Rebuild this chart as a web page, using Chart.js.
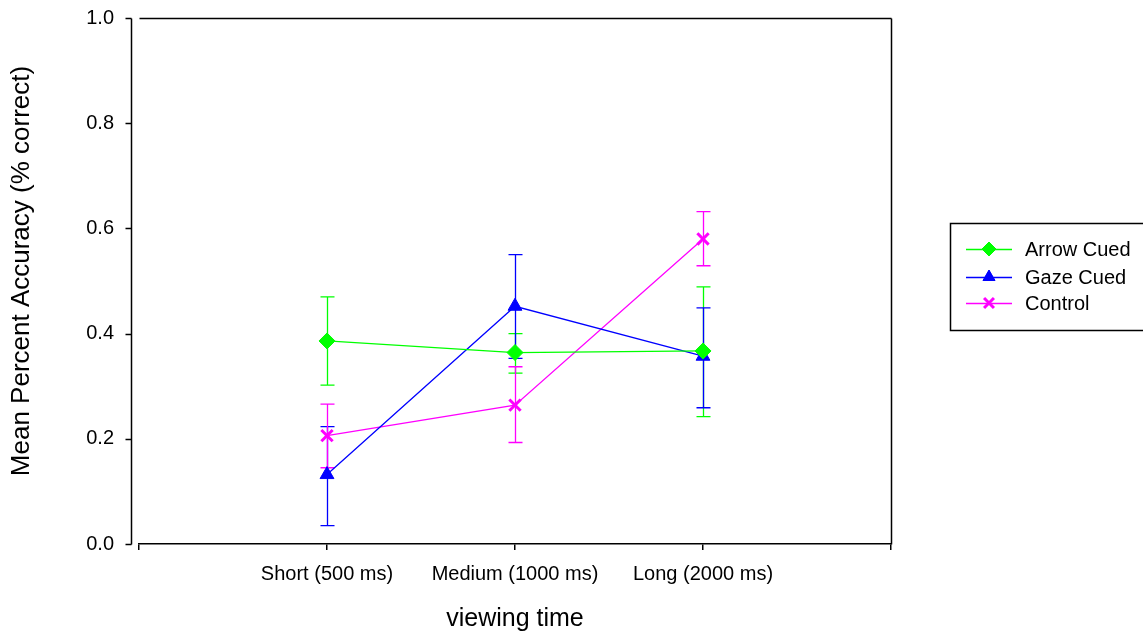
<!DOCTYPE html>
<html>
<head>
<meta charset="utf-8">
<script src="https://cdn.jsdelivr.net/npm/chart.js@4/dist/chart.umd.min.js"></script>
<style>
  html, body { margin: 0; padding: 0; background: #fff; }
  #wrap { width: 1143px; height: 632px; }
</style>
</head>
<body>
<div id="wrap"><canvas id="chart" width="1143" height="632"></canvas></div>
<script>
const categories = ['Short (500 ms)', 'Medium (1000 ms)', 'Long (2000 ms)'];
const yTicks = [0, 0.2, 0.4, 0.6, 0.8, 1.0];

const arrowMean  = [0.386, 0.364, 0.367];
const arrowUpper = [0.470, 0.400, 0.489];
const arrowLower = [0.302, 0.325, 0.242];

const gazeMean  = [0.132, 0.452, 0.357];
const gazeUpper = [0.223, 0.550, 0.449];
const gazeLower = [0.035, 0.353, 0.259];

const controlMean  = [0.206, 0.264, 0.580];
const controlUpper = [0.266, 0.337, 0.632];
const controlLower = [0.145, 0.193, 0.529];

const FONT = '"Liberation Sans", Arial, sans-serif';
Chart.defaults.font.family = FONT;
Chart.defaults.color = '#000';

// empty slots at both ends so the categories sit at 1/4, 2/4, 3/4 of the axis
const pad = (arr) => [null, ...arr, null];

const series = [
  { label: 'Arrow Cued', color: '#00ff00', mean: arrowMean, upper: arrowUpper, lower: arrowLower, style: 'rectRot', radius: 8, bw: 1 },
  { label: 'Gaze Cued', color: '#0000ff', mean: gazeMean, upper: gazeUpper, lower: gazeLower, style: 'triangle', radius: 8, bw: 1 },
  { label: 'Control', color: '#ff00ff', mean: controlMean, upper: controlUpper, lower: controlLower, style: 'crossRot', radius: 8, bw: 3 },
];

// error bars, drawn beneath lines and symbols
const errorBars = {
  id: 'errorBars',
  beforeDatasetsDraw(chart) {
    const ctx = chart.ctx;
    const yScale = chart.scales.y;
    ctx.save();
    ctx.lineWidth = 1.3;
    series.forEach((s, di) => {
      const meta = chart.getDatasetMeta(di);
      ctx.strokeStyle = s.color;
      s.mean.forEach((m, i) => {
        const pt = meta.data[i + 1];
        const x = Math.round(pt.x) + 0.5;
        const yu = yScale.getPixelForValue(s.upper[i]);
        const yl = yScale.getPixelForValue(s.lower[i]);
        ctx.beginPath();
        ctx.moveTo(x, yu); ctx.lineTo(x, yl);
        ctx.moveTo(x - 7, yu); ctx.lineTo(x + 7, yu);
        ctx.moveTo(x - 7, yl); ctx.lineTo(x + 7, yl);
        ctx.stroke();
      });
    });
    ctx.restore();
  }
};

// frame, detached y axis, y title and boxed legend
const frame = {
  id: 'frame',
  afterDraw(chart) {
    const ctx = chart.ctx;
    const a = chart.chartArea;
    const yScale = chart.scales.y;
    ctx.save();
    ctx.strokeStyle = '#000';
    ctx.lineWidth = 1.5;
    const L = Math.round(a.left) + 0.5, R = Math.round(a.right) + 0.5;
    const T = Math.round(a.top) + 0.5, B = Math.round(a.bottom) + 0.5;
    ctx.beginPath();
    ctx.moveTo(L, T); ctx.lineTo(R, T);
    ctx.moveTo(R, T); ctx.lineTo(R, B);
    const ax = L - 8;
    ctx.moveTo(ax, T); ctx.lineTo(ax, B);
    yTicks.forEach(v => {
      const y = Math.round(yScale.getPixelForValue(v)) + 0.5;
      ctx.moveTo(ax - 6, y); ctx.lineTo(ax, y);
    });
    ctx.stroke();

    // y title
    ctx.fillStyle = '#000';
    ctx.font = '26px ' + FONT;
    ctx.textAlign = 'center';
    ctx.textBaseline = 'middle';
    ctx.translate(22, 271);
    ctx.rotate(-Math.PI / 2);
    ctx.fillText('Mean Percent Accuracy (% correct)', 0, 0);
    ctx.setTransform(1, 0, 0, 1, 0, 0);

    // legend
    ctx.lineWidth = 1.5;
    ctx.strokeRect(950.5, 223.5, 220, 107);
    const rows = [249, 277, 303];
    ctx.font = '20px ' + FONT;
    ctx.textAlign = 'left';
    series.forEach((s, i) => {
      const y = rows[i];
      ctx.strokeStyle = s.color;
      ctx.fillStyle = s.color;
      ctx.lineWidth = 1.3;
      ctx.beginPath();
      ctx.moveTo(966, y + 0.5); ctx.lineTo(1012, y + 0.5);
      ctx.stroke();
      ctx.lineWidth = s.bw;
      if (Chart.helpers && Chart.helpers.drawPoint) {
        Chart.helpers.drawPoint(ctx, { pointStyle: s.style, radius: 7, borderWidth: s.bw, rotation: 0 }, 989, y);
        if (s.style !== 'crossRot') ctx.fill();
      }
      ctx.fillStyle = '#000';
      ctx.fillText(s.label, 1025, y + 1);
    });
    ctx.restore();
  }
};

new Chart(document.getElementById('chart').getContext('2d'), {
  type: 'line',
  data: {
    labels: ['', ...categories, ''],
    datasets: series.map(s => ({
      label: s.label,
      data: pad(s.mean),
      borderColor: s.color,
      backgroundColor: s.color,
      borderWidth: 1.3,
      tension: 0,
      pointStyle: s.style,
      pointRadius: s.radius,
      pointBorderWidth: s.bw,
      pointBackgroundColor: s.color,
      pointBorderColor: s.color,
    })),
  },
  options: {
    responsive: false,
    animation: false,
    layout: { padding: { top: 18, right: 252, left: 0, bottom: 0 } },
    plugins: { legend: { display: false }, tooltip: { enabled: false } },
    scales: {
      x: {
        type: 'category',
        offset: false,
        afterFit(scale) { scale.height = 88; scale.paddingLeft = 0; scale.paddingRight = 0; },
        grid: { display: true, drawOnChartArea: false, drawTicks: true, tickLength: 6, color: '#000', lineWidth: 1.5 },
        border: { display: true, color: '#000', width: 1.5 },
        ticks: { autoSkip: false, maxRotation: 0, padding: 12, font: { size: 20 }, color: '#000' },
        title: { display: true, text: 'viewing time', font: { size: 25, lineHeight: 1 }, padding: { top: 0, bottom: 0 }, color: '#000' },
      },
      y: {
        min: 0,
        max: 1,
        afterFit(scale) { scale.width = 139; scale.paddingTop = 0; scale.paddingBottom = 0; },
        afterBuildTicks(scale) { scale.ticks = yTicks.map(v => ({ value: v })); },
        grid: { display: false },
        border: { display: false },
        ticks: { padding: 17, font: { size: 20 }, color: '#000', callback: (v) => Number(v).toFixed(1) },
      },
    },
  },
  plugins: [errorBars, frame],
});
</script>
</body>
</html>
